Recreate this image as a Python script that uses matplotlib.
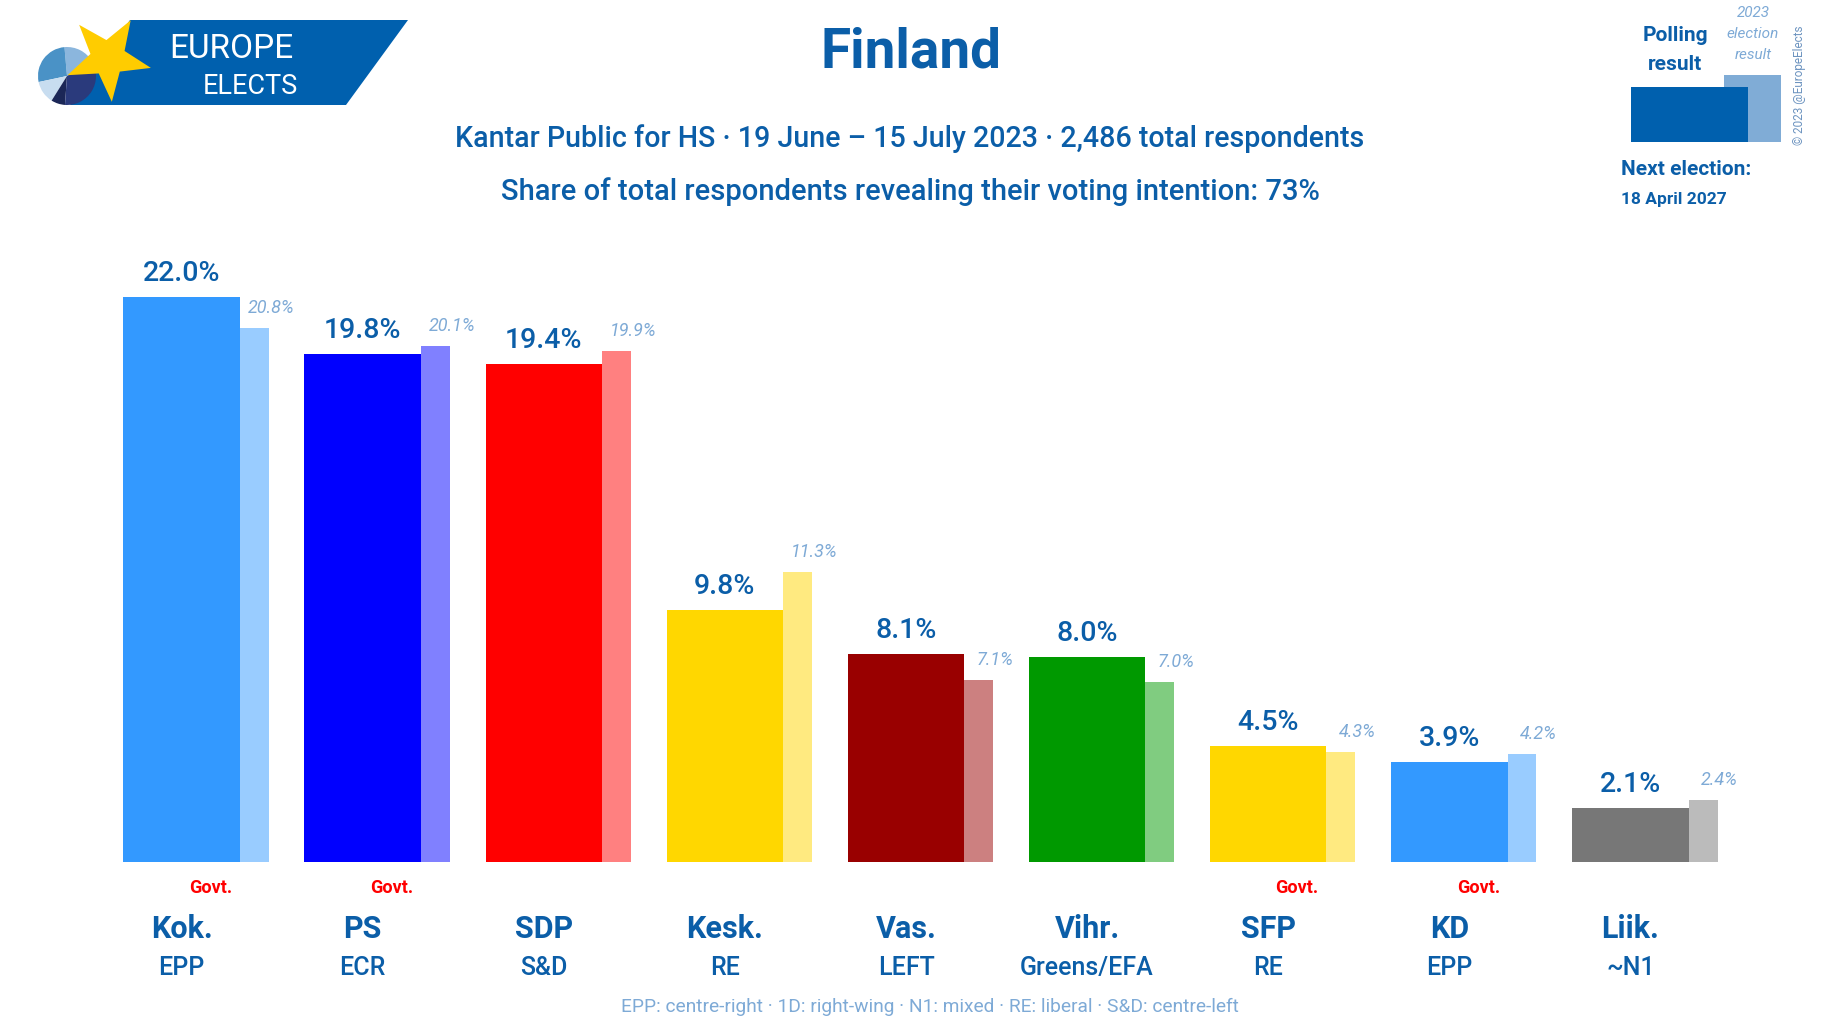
import numpy as np
import matplotlib
matplotlib.use("Agg")
import matplotlib.pyplot as plt
from matplotlib.patches import Polygon, Rectangle, Wedge
from matplotlib.transforms import blended_transform_factory

plt.rcParams['font.family'] = ['Roboto', 'DejaVu Sans']

# poll data
parties = ['Kok.', 'PS', 'SDP', 'Kesk.', 'Vas.', 'Vihr.', 'SFP', 'KD', 'Liik.']
groups = ['EPP', 'ECR', 'S&D', 'RE', 'LEFT', 'Greens/EFA', 'RE', 'EPP', '~N1']
poll = [22.0, 19.8, 19.4, 9.8, 8.1, 8.0, 4.5, 3.9, 2.1]
election = [20.8, 20.1, 19.9, 11.3, 7.1, 7.0, 4.3, 4.2, 2.4]
govt = [True, True, False, False, False, False, True, True, False]
main_colors = ['#3399ff', '#0000ff', '#ff0000', '#ffd700', '#990000',
               '#009900', '#ffd700', '#3399ff', '#777777']
light_colors = ['#99ccff', '#8080ff', '#ff8080', '#ffea80', '#cc8080',
                '#80cc80', '#ffea80', '#99ccff', '#bbbbbb']

DARK = '#0b5ea8'
LIGHT = '#7eaad6'

W, H = 1825, 1025
fig = plt.figure(figsize=(W / 100, H / 100), dpi=100)

# bar axes: baseline at y=862px, 25.68px per percent
ax = fig.add_axes([0, (H - 862) / H, 1, 30 * 25.68 / H])
ax.set_xlim(-181.6 / 181.1, (W - 181.6) / 181.1)
ax.set_ylim(0, 30)
ax.axis('off')

# overlay axes in pixel coordinates for texts and decoration
ov = fig.add_axes([0, 0, 1, 1], zorder=-1)
ov.set_xlim(0, W)
ov.set_ylim(H, 0)
ov.axis('off')

x = np.arange(len(parties))
bw = 0.643
ew = 0.16
ax.bar(x + bw / 2, election, width=ew, align='edge', color=light_colors, zorder=1)
ax.bar(x, poll, width=bw, color=main_colors, zorder=2)

for i in range(len(parties)):
    ax.annotate(f'{poll[i]:.1f}%', (x[i], poll[i]), xytext=(0, 16),
                textcoords='offset pixels', ha='center', va='baseline',
                fontsize=20.5, fontweight='medium', color=DARK)
    ax.annotate(f'{election[i]:.1f}%', (x[i] + bw / 2 + ew + 0.01, election[i]),
                xytext=(0, 15), textcoords='offset pixels', ha='center',
                va='baseline', fontsize=13, style='italic', color=LIGHT)

tr = blended_transform_factory(ax.transData, ov.transData)
for i in range(len(parties)):
    ax.text(x[i], 938, parties[i], transform=tr, ha='center', va='baseline',
            fontsize=22, fontweight='bold', color=DARK)
    ax.text(x[i], 975, groups[i], transform=tr, ha='center', va='baseline',
            fontsize=18, fontweight='medium', color=DARK)
    if govt[i]:
        ax.text(x[i] + 0.16, 893, 'Govt.', transform=tr, ha='center',
                va='baseline', fontsize=13, fontweight='bold', color='#ff0000')

# titles
ov.text(911, 67, 'Finland', ha='center', va='baseline', fontsize=39.5,
        fontweight='bold', color=DARK)
ov.text(910, 147, 'Kantar Public for HS · 19 June – 15 July 2023 · 2,486 total respondents',
        ha='center', va='baseline', fontsize=20.6, fontweight='medium', color=DARK)
ov.text(910, 200, 'Share of total respondents revealing their voting intention: 73%',
        ha='center', va='baseline', fontsize=21, fontweight='medium', color=DARK)
ov.text(930, 1012, 'EPP: centre-right · 1D: right-wing · N1: mixed · RE: liberal · S&D: centre-left',
        ha='center', va='baseline', fontsize=13.8, color=LIGHT)

# legend box top right
ov.add_patch(Rectangle((1724, 75), 57, 67, color='#80acd6', lw=0))
ov.add_patch(Rectangle((1631, 87), 117, 55, color='#0060ae', lw=0))
ov.text(1675, 41, 'Polling', ha='center', va='baseline', fontsize=15,
        fontweight='bold', color=DARK)
ov.text(1675, 70, 'result', ha='center', va='baseline', fontsize=15,
        fontweight='bold', color=DARK)
for yy, t in zip([17, 38, 59], ['2023', 'election', 'result']):
    ov.text(1753, yy, t, ha='center', va='baseline', fontsize=11,
            style='italic', color=LIGHT)
ov.text(1621, 175, 'Next election:', ha='left', va='baseline', fontsize=15,
        fontweight='bold', color=DARK)
ov.text(1621, 204, '18 April 2027', ha='left', va='baseline', fontsize=12.5,
        fontweight='bold', color=DARK)
ov.text(1800, 85, '© 2023 @EuropeElects', rotation=90, ha='center', va='center',
        fontsize=8.5, color='#6d94c0')

# logo
ov.add_patch(Polygon([(130, 20), (408, 20), (346, 105), (70, 105)],
                     closed=True, color='#0060ae', lw=0))
cx, cy, r = 67, 76, 29
pie = [(30, 95, '#8bb6dd'), (95, 192, '#4a92c6'), (192, 238, '#c8ddf0'),
       (238, 266, '#1b2757'), (266, 390, '#2a3a7c')]
for a0, a1, c in pie:
    ov.add_patch(Wedge((cx, cy), r, -a1, -a0, color=c, lw=0))
sx, sy = 108, 58
pts = []
for k in range(10):
    a = np.deg2rad(59 + 36 * k)
    rr = 44 if k % 2 == 0 else 18
    pts.append((sx + rr * np.cos(a), sy - rr * np.sin(a)))
ov.add_patch(Polygon(pts, closed=True, color='#ffcc00', lw=0))
ov.text(231, 58, 'EUROPE', ha='center', va='baseline', fontsize=24,
        color='white')
ov.text(250, 94, 'ELECTS', ha='center', va='baseline', fontsize=19.5,
        color='white')

fig.savefig('out.png', dpi=100)
